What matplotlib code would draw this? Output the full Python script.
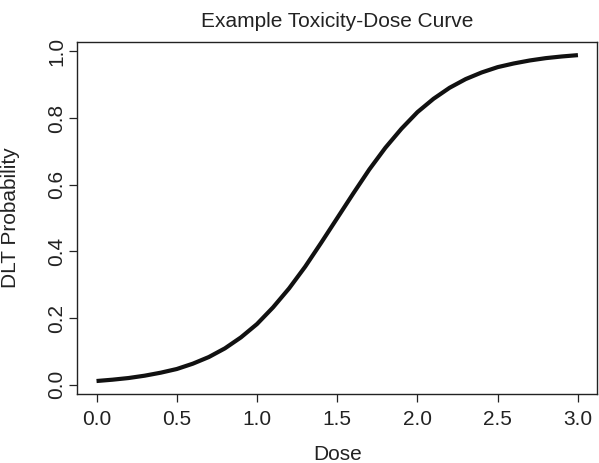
import matplotlib
matplotlib.use("Agg")
import matplotlib.pyplot as plt

plt.rcParams['font.family'] = ['Liberation Sans', 'DejaVu Sans']

# dose grid and DLT probabilities
dose = [0.0, 0.1, 0.2, 0.3, 0.4, 0.5, 0.6, 0.7, 0.8, 0.9, 1.0,
        1.1, 1.2, 1.3, 1.4, 1.5, 1.6, 1.7, 1.8, 1.9, 2.0,
        2.1, 2.2, 2.3, 2.4, 2.5, 2.6, 2.7, 2.8, 2.9, 3.0]
prob = [0.011, 0.015, 0.020, 0.027, 0.036, 0.047, 0.063, 0.083, 0.109, 0.142, 0.182,
        0.232, 0.289, 0.354, 0.426, 0.500, 0.574, 0.646, 0.711, 0.768, 0.818,
        0.858, 0.891, 0.917, 0.937, 0.953, 0.964, 0.973, 0.980, 0.985, 0.989]
xticks = [0.0, 0.5, 1.0, 1.5, 2.0, 2.5, 3.0]
yticks = [0.0, 0.2, 0.4, 0.6, 0.8, 1.0]

fig = plt.figure(figsize=(5.99, 4.63), dpi=100)
ax = fig.add_axes([0.129, 0.149, 0.868, 0.760])
ax.plot(dose, prob, color="#111111", lw=3, solid_capstyle="butt", solid_joinstyle="round")
ax.set_xlim(-0.12, 3.12)
ax.set_ylim(-0.028, 1.028)
ax.set_xticks(xticks)
ax.set_xticklabels(["%.1f" % v for v in xticks])
ax.set_yticks(yticks)
ax.set_yticklabels(["%.1f" % v for v in yticks], rotation=90, va="center")
ax.tick_params(direction="out", length=5.5, width=0.9, labelsize=15,
               colors="#222222")
ax.tick_params(axis="x", pad=6)
ax.tick_params(axis="y", pad=2.5)
for s in ax.spines.values():
    s.set_linewidth(1.0)
    s.set_color("#222222")

fig.text(0.563, 0.942, "Example Toxicity-Dose Curve", ha="center", va="baseline",
         fontsize=15, color="#222222")
fig.text(0.563, 0.006, "Dose", ha="center", va="baseline", fontsize=15, color="#222222")
fig.text(0.018, 0.529, "DLT Probability", ha="center", va="center", rotation=90,
         fontsize=15, color="#222222")

fig.savefig("out.png", dpi=100)
